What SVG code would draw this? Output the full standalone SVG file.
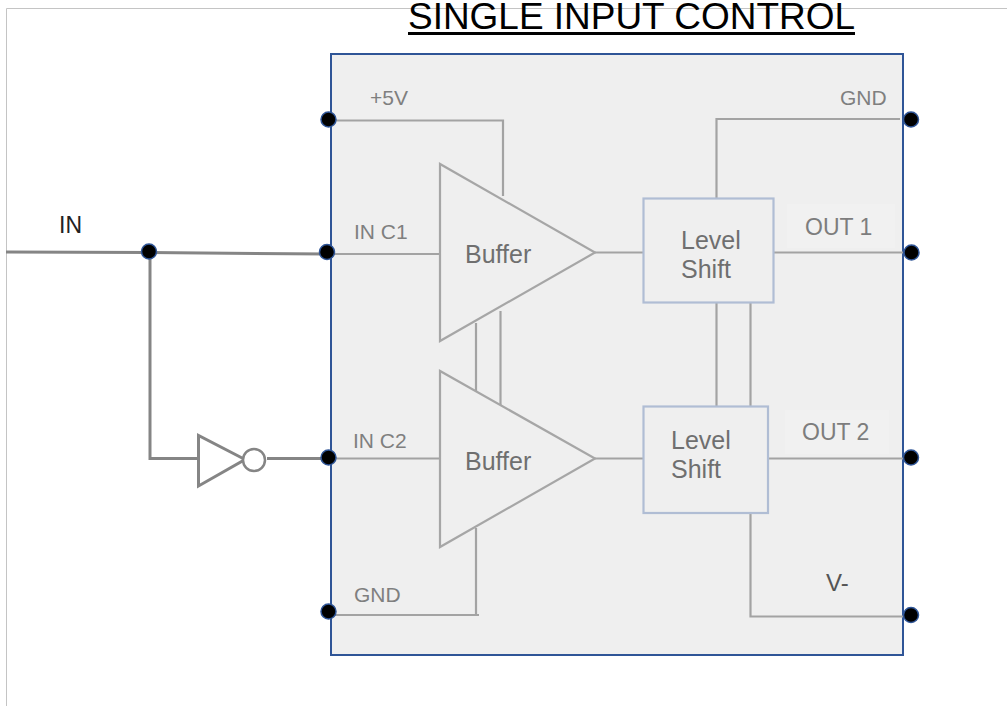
<svg xmlns="http://www.w3.org/2000/svg" width="1007" height="706" viewBox="0 0 1007 706">
<style>
text{font-family:"Liberation Sans",Arial,sans-serif}
.lbl{font-size:21px;fill:#7f7f7f}
.blbl{font-size:25px;fill:#6f6f6f}
.w{fill:none;stroke:#a3a3a3;stroke-width:2.2}
.o{fill:none;stroke:#858585;stroke-width:3}
.tri{fill:#efefef;stroke:#a6a6a6;stroke-width:2.200}
.ls{fill:#efefef;stroke:#b0bdd4;stroke-width:2.200}
.dot{fill:#000;stroke:#2f5597;stroke-width:1.500}
</style>
<rect width="1007" height="706" fill="#fff"/>
<path d="M6.500 706V8.500H1007" fill="none" stroke="#c4c4c4" stroke-width="1"/>
<g id="frame"><rect x="331" y="54" width="572" height="601" fill="#efefef" stroke="#2f5597" stroke-width="2"/></g>
<g id="title"><text x="408" y="29" font-size="37" textLength="447" lengthAdjust="spacingAndGlyphs" fill="#000">SINGLE INPUT CONTROL</text><rect x="408" y="32" width="447" height="3"/></g>
<g id="connectors">
<path class="o" d="M6 252L149 252.500L327 254"/>
<path class="o" d="M150 252V458.500H198"/>
<path class="o" d="M267 458.500H327"/>
<path class="w" d="M331 120.500H503V196"/>
<path class="w" d="M331 254H440"/>
<path class="w" d="M331 458.500H440"/>
<path class="w" d="M331 615H479"/>
<path class="w" d="M476 323V394"/>
<path class="w" d="M500.500 311V405"/>
<path class="w" d="M476 528V615"/>
<path class="w" d="M595 252.500H643"/>
<path class="w" d="M595 458.500H643"/>
<path class="w" d="M716.500 198V119H900"/>
<path class="w" d="M774 252.500H903"/>
<path class="w" d="M768 458.500H903"/>
<path class="w" d="M716.500 303V406"/>
<path class="w" d="M750.500 303V406"/>
<path class="w" d="M750.500 513V616.500H903"/>
</g>
<g id="buffer1"><path class="tri" d="M440 164V341L595 252.500Z"/><text class="blbl" x="465" y="263">Buffer</text></g>
<g id="buffer2"><path class="tri" d="M440 371V547L595 458.500Z"/><text class="blbl" x="465" y="470">Buffer</text></g>
<g id="levelshift1"><rect class="ls" x="643.500" y="198.500" width="130" height="104"/><text class="blbl"><tspan x="681" y="249">Level</tspan><tspan x="681" y="278">Shift</tspan></text></g>
<g id="levelshift2"><rect class="ls" x="643.500" y="406.500" width="124.500" height="106.500"/><text class="blbl"><tspan x="671" y="449">Level</tspan><tspan x="671" y="478">Shift</tspan></text></g>
<g id="inverter"><path d="M198.500 435.500V486L245 459.500Z" fill="#fff" stroke="#858585" stroke-width="3"/><circle cx="254" cy="460" r="11" fill="#fff" stroke="#858585" stroke-width="2.500"/></g>
<g id="labels">
<rect x="787" y="204" width="108" height="44" fill="#f1f1f1"/>
<rect x="785" y="410" width="104" height="44" fill="#f1f1f1"/>
<text x="59" y="233" font-size="23" fill="#222">IN</text>
<text class="lbl" x="370" y="105">+5V</text>
<text class="lbl" x="354" y="239">IN C1</text>
<text class="lbl" x="353" y="448">IN C2</text>
<text class="lbl" x="354" y="602">GND</text>
<text class="lbl" x="840" y="105">GND</text>
<text x="805" y="235" font-size="23" fill="#7d7d7d">OUT 1</text>
<text x="802" y="440" font-size="23" fill="#7d7d7d">OUT 2</text>
<text x="826" y="591" font-size="24" fill="#555">V-</text>
</g>
<g id="terminals">
<circle class="dot" cx="328.500" cy="119.500" r="7.500"/>
<circle class="dot" cx="149" cy="251.500" r="7.500"/>
<circle class="dot" cx="327" cy="252" r="7.500"/>
<circle class="dot" cx="328.500" cy="457.500" r="7.500"/>
<circle class="dot" cx="328.500" cy="611.500" r="7.500"/>
<circle class="dot" cx="911" cy="119.500" r="7.500"/>
<circle class="dot" cx="911.500" cy="252.500" r="7.500"/>
<circle class="dot" cx="911" cy="457.500" r="7.500"/>
<circle class="dot" cx="911" cy="615" r="7.500"/>
</g>
</svg>
